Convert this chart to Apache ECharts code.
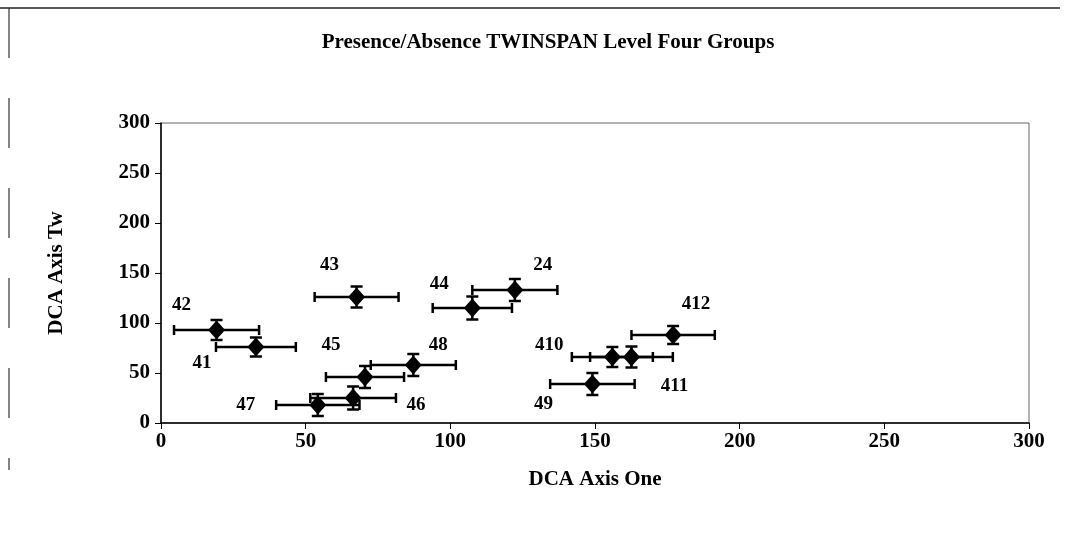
<!DOCTYPE html>
<html>
<head>
<meta charset="utf-8">
<script src="https://cdn.jsdelivr.net/npm/echarts@6/dist/echarts.min.js"></script>
<style>
  html, body { margin: 0; padding: 0; background: #fff; }
  #chart { width: 1065px; height: 560px; }
</style>
</head>
<body>
<div id="chart"></div>
<script>
// group labels and DCA scores
var groupNames = ['42', '41', '47', '43', '44', '24', '45', '48', '46', '410', '411', '412', '49'];
var axisOne   = [19.2, 32.8, 54.2, 67.6, 107.6, 122.3, 70.5, 87.2, 66.4, 156.0, 162.6, 177.0, 149.1];
var axisTwo   = [93, 76, 18, 126, 115, 133, 46, 58, 25, 66, 66, 88, 39];
var errOne    = [14.7, 13.8, 14.4, 14.5, 13.7, 14.7, 13.5, 14.7, 14.8, 14.0, 14.3, 14.4, 14.6];
var errTwo    = [10, 9.5, 11, 10.5, 11.5, 11, 11, 11, 11.5, 10, 10.5, 9, 11];
var axisTicks = [0, 50, 100, 150, 200, 250, 300];

// where each group number sits relative to its diamond (px)
var labelOffsets = [
	[-35, -25], [-54, 16], [-72, 0], [-27, -32], [-33, -24], [28, -25],
	[-34, -32], [25, -20], [63, 7], [-63, -12], [43, 29], [23, -31], [-49, 20]
];

var font = '"Liberation Serif", "Times New Roman", serif';

var errData = [];
var pointData = [];
for (var i = 0; i < groupNames.length; i++) {
	errData.push([axisOne[i], axisTwo[i], errOne[i], errTwo[i]]);
	pointData.push({
		name: groupNames[i],
		value: [axisOne[i], axisTwo[i]],
		label: { offset: labelOffsets[i] }
	});
}

function renderErr(params, api) {
	var x = api.value(0), y = api.value(1), ex = api.value(2), ey = api.value(3);
	var l = api.coord([x - ex, y]);
	var r = api.coord([x + ex, y]);
	var t = api.coord([x, y + ey]);
	var b = api.coord([x, y - ey]);
	var style = { stroke: '#000', lineWidth: 2.5 };
	var capH = 5, capW = 6;
	var line = function(x1, y1, x2, y2) {
		return { type: 'line', shape: { x1: x1, y1: y1, x2: x2, y2: y2 }, style: style };
	};
	return {
		type: 'group',
		children: [
			line(l[0], l[1], r[0], r[1]),
			line(l[0], l[1] - capH, l[0], l[1] + capH),
			line(r[0], r[1] - capH, r[0], r[1] + capH),
			line(t[0], t[1], b[0], b[1]),
			line(t[0] - capW, t[1], t[0] + capW, t[1]),
			line(b[0] - capW, b[1], b[0] + capW, b[1])
		]
	};
}

var axisLabelStyle = {
	color: '#000',
	fontFamily: font,
	fontWeight: 'bold',
	fontSize: 21
};

var option = {
	backgroundColor: '#fff',
	animation: false,
	title: {
		text: 'Presence/Absence TWINSPAN Level Four Groups',
		left: 543,
		top: 27,
		textAlign: 'center',
		textStyle: { color: '#000', fontFamily: font, fontWeight: 'bold', fontSize: 21 }
	},
	grid: {
		left: 161,
		right: 36,
		top: 123,
		bottom: 137,
		show: true,
		borderColor: '#666',
		borderWidth: 1
	},
	xAxis: {
		type: 'value',
		min: axisTicks[0],
		max: axisTicks[axisTicks.length - 1],
		interval: 50,
		name: 'DCA Axis One',
		nameLocation: 'middle',
		nameGap: 46,
		nameTextStyle: { color: '#000', fontFamily: font, fontWeight: 'bold', fontSize: 21 },
		axisLine: { lineStyle: { color: '#000', width: 1.5 } },
		axisTick: { length: 6, lineStyle: { color: '#000' } },
		axisLabel: Object.assign({ margin: 8 }, axisLabelStyle),
		splitLine: { show: false }
	},
	yAxis: {
		type: 'value',
		min: axisTicks[0],
		max: axisTicks[axisTicks.length - 1],
		interval: 50,
		name: 'DCA Axis Tw',
		nameLocation: 'middle',
		nameGap: 94,
		nameTextStyle: { color: '#000', fontFamily: font, fontWeight: 'bold', fontSize: 21 },
		axisLine: { show: true, lineStyle: { color: '#000', width: 1.5 } },
		axisTick: { show: true, length: 6, lineStyle: { color: '#000' } },
		axisLabel: Object.assign({ margin: 11 }, axisLabelStyle),
		splitLine: { show: false }
	},
	graphic: [
		{ type: 'line', shape: { x1: 0, y1: 8, x2: 1060, y2: 8 }, style: { stroke: '#222', lineWidth: 1.5 } },
		{ type: 'line', shape: { x1: 9, y1: 8, x2: 9, y2: 470 }, style: { stroke: '#333', lineWidth: 1.2, lineDash: [50, 40] } }
	],
	series: [
		{
			type: 'custom',
			renderItem: renderErr,
			data: errData,
			z: 2
		},
		{
			type: 'scatter',
			symbol: 'diamond',
			symbolSize: [17, 19],
			itemStyle: { color: '#000', opacity: 1 },
			data: pointData,
			z: 3,
			label: {
				show: true,
				position: 'inside',
				formatter: '{b}',
				color: '#000',
				opacity: 1,
				textBorderWidth: 0,
				fontFamily: font,
				fontWeight: 'bold',
				fontSize: 19
			}
		}
	]
};

var myChart = echarts.init(document.getElementById('chart'));
myChart.setOption(option);
</script>
</body>
</html>
